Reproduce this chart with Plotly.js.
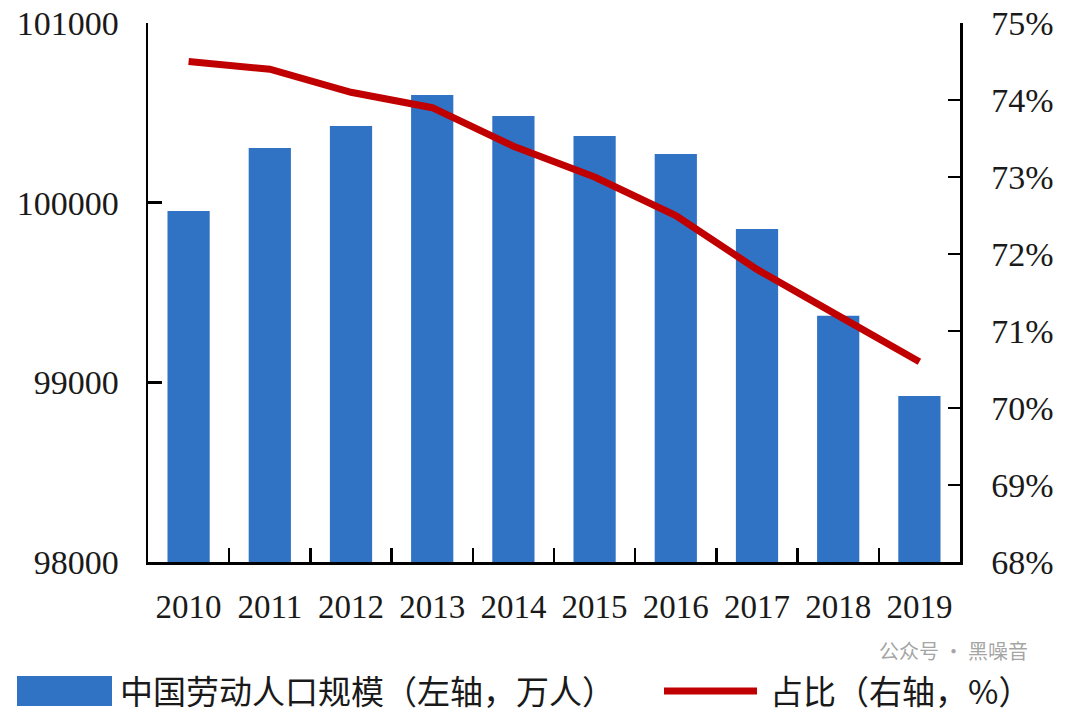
<!DOCTYPE html>
<html>
<head>
<meta charset="utf-8">
<script src="https://cdn.plot.ly/plotly-3.0.1.min.js"></script>
<style>
html,body{margin:0;padding:0;background:#fff;}
#chart{width:1069px;height:720px;}
</style>
</head>
<body>
<div id="chart"></div>
<script>
// Data
const years = ['2010','2011','2012','2013','2014','2015','2016','2017','2018','2019'];
const laborForce = [99954, 100304, 100427, 100599, 100482, 100371, 100271, 99854, 99370, 98924]; // 万人
const sharePct = [74.5, 74.4, 74.1, 73.9, 73.4, 73.0, 72.5, 71.8, 71.2, 70.6]; // %
const leftTicks = [98000, 99000, 100000, 101000];
const rightTicks = [68, 69, 70, 71, 72, 73, 74, 75];
const barName = '中国劳动人口规模（左轴，万人）';
const lineName = '占比（右轴，%）';
const watermark = '公众号 · 黑噪音';

const W = 1069, H = 720;
const M = {l:148, r:109, t:23, b:158};
const PW = W - M.l - M.r, PH = H - M.t - M.b;
const px = x => (x - M.l) / PW;
const py = y => (H - M.b - y) / PH;

const barColor = '#3072C4';
const lineColor = '#C00000';
const serif = 'Liberation Serif, Times New Roman, serif';
const cjk = 'Noto Sans CJK SC, sans-serif';

const traces = [
  {type:'bar', x:years, y:laborForce, name:barName, marker:{color:barColor}, width:0.52, yaxis:'y', showlegend:false},
  {type:'scatter', mode:'lines', x:years, y:sharePct, name:lineName, line:{color:lineColor, width:7}, yaxis:'y2', showlegend:false}
];

const layout = {
  width:W, height:H,
  margin:M,
  paper_bgcolor:'#fff', plot_bgcolor:'#fff',
  showlegend:false,
  xaxis:{type:'category', range:[-0.5, 9.5], showline:true, linecolor:'#000', linewidth:2.5,
    ticks:'inside', tickson:'boundaries', ticklen:14, tickwidth:2.5, tickcolor:'#000',
    showgrid:false, zeroline:false, tickfont:{family:serif, size:33, color:'#1a1a1a'}, ticklabelstandoff:14},
  yaxis:{range:[98000, 101000], tickvals:leftTicks, ticktext:leftTicks.map(String), showline:true, linecolor:'#000', linewidth:2.5,
    ticks:'inside', ticklen:14, tickwidth:2.5, tickcolor:'#000', showgrid:false, zeroline:false,
    tickfont:{family:serif, size:34, color:'#1a1a1a'}, ticklabelstandoff:20},
  yaxis2:{range:[68, 75], overlaying:'y', side:'right', tickvals:rightTicks, ticktext:rightTicks.map(v => v + '%'),
    showline:true, linecolor:'#000', linewidth:2.5, ticks:'inside', ticklen:12, tickwidth:2.5, tickcolor:'#000',
    showgrid:false, zeroline:false, tickfont:{family:serif, size:34, color:'#1a1a1a'}, ticklabelstandoff:22},
  shapes:[
    {type:'rect', xref:'paper', yref:'paper', x0:px(17), x1:px(112), y0:py(676), y1:py(706), fillcolor:barColor, line:{width:0}},
    {type:'line', xref:'paper', yref:'paper', x0:px(664), x1:px(757), y0:py(691), y1:py(691), line:{color:lineColor, width:7}}
  ],
  annotations:[
    {xref:'paper', yref:'paper', x:px(118), y:py(690), xanchor:'left', yanchor:'middle', showarrow:false, text:barName,
      font:{family:cjk, size:33, color:'#1a1a1a'}},
    {xref:'paper', yref:'paper', x:px(768), y:py(690), xanchor:'left', yanchor:'middle', showarrow:false, text:lineName,
      font:{family:cjk, size:33, color:'#1a1a1a'}},
    {xref:'paper', yref:'paper', x:px(1030), y:py(651), xanchor:'right', yanchor:'middle', showarrow:false, text:watermark,
      font:{family:cjk, size:20, color:'rgba(140,140,140,0.8)'}}
  ]
};

Plotly.newPlot('chart', traces, layout, {displayModeBar:false, staticPlot:true});
</script>
</body>
</html>
